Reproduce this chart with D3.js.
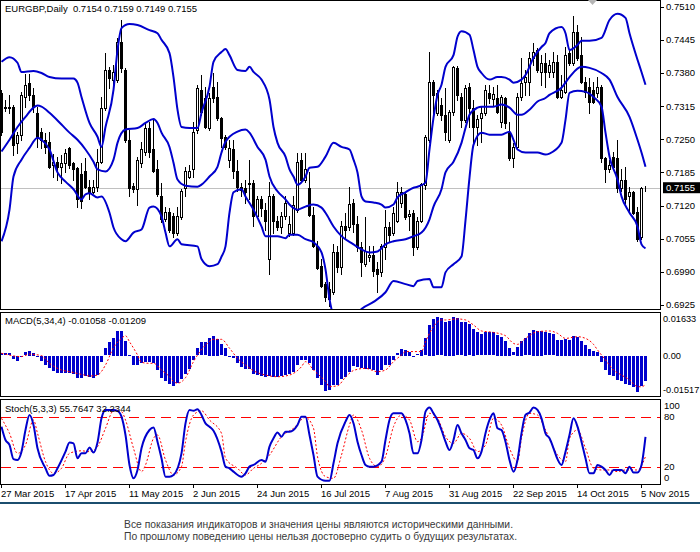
<!DOCTYPE html>
<html>
<head>
<meta charset="utf-8">
<script src="https://cdn.jsdelivr.net/npm/d3@7"></script>
<style>
  body { margin: 0; background: #fff; }
  text { font-family: "Liberation Sans", Arial, sans-serif; white-space: pre; }
</style>
</head>
<body>
<div id="vis"></div>
<script>
// EURGBP daily candles, [open, high, low, close]
let ohlc = [
  [0.7341,0.7347,0.7259,0.7265],[0.7314,0.7328,0.7306,0.7312],[0.7314,0.7337,0.7302,0.7312],[0.7314,0.7318,0.7220,0.7239],
  [0.7243,0.7265,0.7224,0.7259],[0.7259,0.7343,0.7249,0.7337],[0.7333,0.7378,0.7314,0.7357],[0.7361,0.7378,0.7328,0.7337],
  [0.7337,0.7351,0.7304,0.7314],[0.7302,0.7314,0.7235,0.7253],[0.7265,0.7272,0.7233,0.7249],[0.7249,0.7263,0.7224,0.7235],
  [0.7245,0.7265,0.7194,0.7196],[0.7200,0.7222,0.7177,0.7206],[0.7206,0.7216,0.7171,0.7196],[0.7196,0.7220,0.7165,0.7204],
  [0.7204,0.7230,0.7185,0.7224],[0.7233,0.7235,0.7194,0.7200],[0.7204,0.7206,0.7171,0.7191],[0.7194,0.7196,0.7118,0.7132],
  [0.7181,0.7204,0.7116,0.7128],[0.7187,0.7214,0.7155,0.7157],[0.7157,0.7171,0.7132,0.7146],[0.7146,0.7171,0.7144,0.7157],
  [0.7157,0.7230,0.7148,0.7206],[0.7206,0.7333,0.7204,0.7312],[0.7312,0.7419,0.7308,0.7386],[0.7386,0.7392,0.7351,0.7371],
  [0.7367,0.7396,0.7357,0.7382],[0.7367,0.7449,0.7363,0.7441],[0.7441,0.7484,0.7382,0.7390],[0.7386,0.7390,0.7245,0.7249],
  [0.7249,0.7269,0.7138,0.7155],[0.7159,0.7165,0.7146,0.7152],[0.7152,0.7216,0.7122,0.7210],[0.7204,0.7245,0.7196,0.7230],
  [0.7226,0.7282,0.7220,0.7272],[0.7272,0.7284,0.7216,0.7226],[0.7230,0.7288,0.7185,0.7187],[0.7191,0.7210,0.7138,0.7142],
  [0.7138,0.7165,0.7087,0.7093],[0.7093,0.7118,0.7089,0.7108],[0.7108,0.7116,0.7069,0.7073],[0.7099,0.7106,0.7058,0.7067],
  [0.7067,0.7118,0.7063,0.7099],[0.7097,0.7152,0.7093,0.7148],[0.7155,0.7196,0.7138,0.7187],[0.7177,0.7200,0.7175,0.7187],
  [0.7191,0.7284,0.7177,0.7265],[0.7269,0.7357,0.7263,0.7351],[0.7347,0.7376,0.7298,0.7304],[0.7331,0.7353,0.7272,0.7274],
  [0.7272,0.7341,0.7269,0.7331],[0.7353,0.7380,0.7324,0.7331],[0.7333,0.7363,0.7288,0.7292],[0.7292,0.7294,0.7235,0.7253],
  [0.7255,0.7259,0.7230,0.7235],[0.7210,0.7249,0.7196,0.7233],[0.7230,0.7249,0.7175,0.7187],[0.7187,0.7210,0.7148,0.7157],
  [0.7157,0.7165,0.7138,0.7150],[0.7155,0.7171,0.7126,0.7146],[0.7165,0.7210,0.7132,0.7163],[0.7165,0.7171,0.7079,0.7099],
  [0.7099,0.7138,0.7097,0.7132],[0.7132,0.7138,0.7099,0.7116],[0.7112,0.7126,0.7073,0.7089],[0.7015,0.7167,0.6985,0.7138],
  [0.7138,0.7142,0.7067,0.7089],[0.7089,0.7099,0.7073,0.7077],[0.7077,0.7108,0.7067,0.7099],[0.7099,0.7138,0.7093,0.7126],
  [0.7067,0.7099,0.7060,0.7083],[0.7067,0.7138,0.7063,0.7122],[0.7112,0.7224,0.7108,0.7206],[0.7210,0.7224,0.7167,0.7171],
  [0.7171,0.7224,0.7167,0.7191],[0.7155,0.7185,0.7099,0.7101],[0.7101,0.7118,0.7038,0.7040],[0.7040,0.7050,0.6995,0.6997],
  [0.7001,0.7015,0.6960,0.6962],[0.6966,0.6970,0.6933,0.6941],[0.6956,0.6970,0.6923,0.6937],[0.6950,0.7044,0.6946,0.7028],
  [0.7028,0.7040,0.6989,0.6999],[0.6999,0.7089,0.6985,0.7079],[0.7079,0.7106,0.7054,0.7073],[0.7077,0.7157,0.7073,0.7124],
  [0.7126,0.7132,0.7069,0.7083],[0.7083,0.7099,0.7030,0.7038],[0.7038,0.7048,0.6982,0.7009],[0.7005,0.7097,0.7001,0.7030],
  [0.7020,0.7040,0.7011,0.7024],[0.7024,0.7040,0.6982,0.6991],[0.6995,0.7009,0.6950,0.6985],[0.6989,0.7044,0.6982,0.7040],
  [0.7038,0.7112,0.7015,0.7077],[0.7077,0.7087,0.7048,0.7063],[0.7067,0.7118,0.7063,0.7106],[0.7089,0.7167,0.7087,0.7146],
  [0.7126,0.7157,0.7118,0.7146],[0.7142,0.7146,0.7093,0.7097],[0.7099,0.7112,0.7073,0.7103],[0.7106,0.7112,0.7024,0.7038],
  [0.7038,0.7097,0.7034,0.7089],[0.7089,0.7165,0.7087,0.7163],[0.7161,0.7259,0.7152,0.7255],[0.7249,0.7421,0.7245,0.7363],
  [0.7363,0.7367,0.7298,0.7337],[0.7302,0.7347,0.7298,0.7341],[0.7318,0.7331,0.7288,0.7298],[0.7298,0.7351,0.7249,0.7265],
  [0.7249,0.7308,0.7245,0.7304],[0.7304,0.7394,0.7298,0.7392],[0.7390,0.7394,0.7328,0.7337],[0.7333,0.7341,0.7274,0.7288],
  [0.7288,0.7357,0.7284,0.7351],[0.7353,0.7361,0.7274,0.7312],[0.7312,0.7328,0.7239,0.7274],[0.7274,0.7298,0.7239,0.7290],
  [0.7292,0.7314,0.7245,0.7302],[0.7302,0.7357,0.7298,0.7347],[0.7341,0.7357,0.7322,0.7331],[0.7329,0.7353,0.7318,0.7339],
  [0.7331,0.7357,0.7302,0.7304],[0.7284,0.7337,0.7274,0.7333],[0.7331,0.7333,0.7272,0.7282],[0.7263,0.7284,0.7210,0.7214],
  [0.7214,0.7243,0.7196,0.7235],[0.7235,0.7341,0.7233,0.7333],[0.7333,0.7410,0.7328,0.7361],[0.7363,0.7386,0.7337,0.7372],
  [0.7363,0.7421,0.7337,0.7410],[0.7410,0.7439,0.7396,0.7421],[0.7425,0.7429,0.7382,0.7386],[0.7382,0.7415,0.7357,0.7400],
  [0.7400,0.7419,0.7353,0.7382],[0.7382,0.7406,0.7372,0.7396],[0.7382,0.7421,0.7372,0.7402],[0.7402,0.7415,0.7331,0.7333],
  [0.7333,0.7376,0.7331,0.7347],[0.7343,0.7431,0.7341,0.7415],[0.7419,0.7425,0.7396,0.7400],[0.7400,0.7492,0.7396,0.7460],
  [0.7460,0.7474,0.7406,0.7410],[0.7415,0.7451,0.7361,0.7363],[0.7363,0.7372,0.7333,0.7343],[0.7353,0.7371,0.7302,0.7324],
  [0.7347,0.7363,0.7322,0.7324],[0.7341,0.7372,0.7333,0.7353],[0.7353,0.7357,0.7206,0.7214],[0.7214,0.7216,0.7167,0.7191],
  [0.7191,0.7210,0.7185,0.7200],[0.7216,0.7226,0.7194,0.7196],[0.7214,0.7249,0.7146,0.7155],[0.7155,0.7191,0.7148,0.7171],
  [0.7171,0.7196,0.7126,0.7132],[0.7138,0.7157,0.7106,0.7146],[0.7146,0.7148,0.7103,0.7106],[0.7108,0.7118,0.7050,0.7054],
  [0.7058,0.7157,0.7054,0.7155],[0.7154,0.7159,0.7149,0.7155]
];

// Bollinger bands, [bar, price]
let upperBand = [[0,0.7402],[2,0.7411],[4,0.7400],[5,0.7382],[8,0.7384],[10,0.7380],[12,0.7372],[15,0.7369],[18,0.7369],[19,0.7361],[20,0.7333],[22,0.7282],[24,0.7255],[25,0.7235],[26,0.7274],[28,0.7347],[29,0.7425],[30,0.7468],[32,0.7476],[34,0.7474],[37,0.7464],[39,0.7458],[40,0.7445],[42,0.7419],[43,0.7372],[44,0.7308],[45,0.7274],[47,0.7272],[49,0.7272],[50,0.7302],[52,0.7353],[53,0.7402],[55,0.7421],[56,0.7427],[57,0.7415],[59,0.7386],[61,0.7384],[62,0.7392],[63,0.7382],[65,0.7367],[67,0.7328],[68,0.7274],[69,0.7243],[71,0.7216],[72,0.7191],[73,0.7177],[74,0.7161],[76,0.7177],[77,0.7194],[79,0.7196],[81,0.7216],[83,0.7243],[85,0.7235],[87,0.7230],[88,0.7210],[89,0.7185],[90,0.7138],[91,0.7128],[93,0.7126],[95,0.7122],[96,0.7116],[98,0.7122],[99,0.7136],[101,0.7146],[103,0.7155],[104,0.7157],[106,0.7165],[107,0.7230],[108,0.7292],[109,0.7337],[110,0.7357],[111,0.7392],[113,0.7415],[114,0.7451],[115,0.7462],[117,0.7455],[118,0.7425],[119,0.7392],[120,0.7380],[122,0.7367],[124,0.7372],[125,0.7372],[127,0.7367],[128,0.7361],[130,0.7367],[131,0.7376],[133,0.7410],[135,0.7431],[136,0.7439],[137,0.7458],[140,0.7470],[141,0.7458],[142,0.7425],[144,0.7435],[145,0.7443],[147,0.7443],[150,0.7449],[152,0.7484],[154,0.7496],[156,0.7488],[157,0.7458],[159,0.7406],[160,0.7382],[161,0.7357]];
let middleBand = [[0,0.7226],[2,0.7249],[4,0.7274],[6,0.7294],[8,0.7312],[9,0.7316],[10,0.7314],[12,0.7302],[15,0.7279],[17,0.7263],[19,0.7249],[21,0.7230],[23,0.7206],[24,0.7191],[26,0.7187],[28,0.7210],[29,0.7243],[31,0.7269],[34,0.7272],[36,0.7282],[38,0.7290],[39,0.7282],[40,0.7263],[42,0.7235],[43,0.7204],[44,0.7171],[46,0.7159],[49,0.7157],[50,0.7161],[52,0.7177],[54,0.7196],[55,0.7224],[56,0.7245],[59,0.7265],[61,0.7269],[62,0.7263],[64,0.7235],[66,0.7210],[67,0.7177],[69,0.7148],[71,0.7132],[72,0.7122],[74,0.7112],[76,0.7118],[78,0.7122],[80,0.7116],[81,0.7106],[83,0.7079],[85,0.7060],[88,0.7044],[90,0.7034],[92,0.7028],[94,0.7030],[96,0.7044],[98,0.7050],[101,0.7054],[103,0.7060],[105,0.7067],[107,0.7093],[108,0.7118],[110,0.7152],[111,0.7185],[113,0.7206],[115,0.7243],[116,0.7272],[117,0.7298],[119,0.7312],[120,0.7314],[123,0.7314],[125,0.7318],[127,0.7312],[129,0.7298],[130,0.7298],[132,0.7308],[134,0.7324],[136,0.7331],[137,0.7337],[140,0.7351],[142,0.7372],[145,0.7392],[147,0.7390],[150,0.7380],[152,0.7367],[154,0.7333],[157,0.7294],[159,0.7249],[160,0.7224],[161,0.7196]];
let lowerBand = [[0,0.7050],[2,0.7112],[3,0.7177],[5,0.7210],[7,0.7233],[9,0.7253],[10,0.7249],[12,0.7230],[14,0.7185],[16,0.7167],[18,0.7152],[20,0.7132],[21,0.7142],[22,0.7144],[24,0.7136],[25,0.7138],[27,0.7106],[28,0.7077],[30,0.7054],[31,0.7050],[33,0.7067],[35,0.7073],[37,0.7116],[38,0.7118],[40,0.7099],[41,0.7067],[42,0.7040],[44,0.7054],[45,0.7044],[49,0.7040],[50,0.7015],[52,0.7001],[54,0.7005],[55,0.7020],[56,0.7040],[57,0.7106],[58,0.7146],[60,0.7152],[61,0.7138],[63,0.7112],[65,0.7079],[66,0.7060],[69,0.7060],[71,0.7056],[72,0.7063],[74,0.7063],[76,0.7054],[78,0.7048],[80,0.7028],[81,0.6995],[82,0.6937],[84,0.6890],[87,0.6885],[90,0.6917],[93,0.6931],[96,0.6950],[98,0.6972],[101,0.6966],[103,0.6962],[104,0.6972],[107,0.6976],[108,0.6960],[110,0.6960],[111,0.6989],[113,0.7005],[115,0.7020],[116,0.7091],[117,0.7175],[118,0.7239],[120,0.7263],[122,0.7259],[125,0.7259],[127,0.7265],[128,0.7249],[129,0.7230],[131,0.7224],[134,0.7224],[136,0.7220],[137,0.7222],[140,0.7243],[141,0.7288],[142,0.7341],[144,0.7345],[146,0.7343],[148,0.7333],[150,0.7314],[151,0.7263],[152,0.7216],[154,0.7171],[155,0.7138],[157,0.7106],[159,0.7079],[160,0.7044],[161,0.7036]];

// MACD(5,34,4) histogram, one value per bar
let macdHist = [
  0.0010,0.0010,0.0010,-0.0011,-0.0022,-0.0004,0.0014,0.0019,0.0013,-0.0004,
  -0.0022,-0.0036,-0.0050,-0.0064,-0.0071,-0.0071,-0.0071,-0.0071,-0.0074,-0.0092,
  -0.0092,-0.0085,-0.0088,-0.0092,-0.0081,-0.0025,0.0031,0.0056,0.0075,0.0103,
  0.0103,0.0061,0.0003,-0.0039,-0.0039,-0.0028,-0.0025,-0.0025,-0.0028,-0.0060,
  -0.0092,-0.0106,-0.0115,-0.0125,-0.0111,-0.0097,-0.0076,-0.0056,-0.0018,0.0031,
  0.0056,0.0056,0.0075,0.0083,0.0070,0.0047,0.0033,-0.0002,-0.0008,-0.0028,
  -0.0046,-0.0056,-0.0056,-0.0074,-0.0078,-0.0083,-0.0088,-0.0085,-0.0088,-0.0088,
  -0.0085,-0.0081,-0.0074,-0.0067,-0.0039,-0.0018,-0.0018,-0.0028,-0.0060,-0.0092,
  -0.0122,-0.0145,-0.0143,-0.0122,-0.0122,-0.0095,-0.0088,-0.0067,-0.0042,-0.0046,
  -0.0050,-0.0056,-0.0053,-0.0060,-0.0078,-0.0060,-0.0036,-0.0039,-0.0018,0.0010,
  0.0028,0.0024,0.0017,-0.0004,0.0006,0.0024,0.0072,0.0128,0.0153,0.0160,
  0.0156,0.0142,0.0145,0.0163,0.0156,0.0139,0.0142,0.0131,0.0111,0.0097,
  0.0089,0.0097,0.0097,0.0097,0.0086,0.0079,0.0061,0.0033,0.0014,0.0038,
  0.0061,0.0072,0.0093,0.0107,0.0103,0.0103,0.0097,0.0093,0.0089,0.0065,
  0.0065,0.0070,0.0065,0.0083,0.0079,0.0061,0.0044,0.0028,0.0019,0.0017,
  -0.0025,-0.0060,-0.0078,-0.0083,-0.0101,-0.0106,-0.0115,-0.0122,-0.0129,-0.0152,
  -0.0125,-0.0106
];
let macdSignal = [[0,0.0010],[5,-0.0004],[7,0.0006],[10,0.0000],[12,-0.0032],[15,-0.0060],[17,-0.0067],[20,-0.0078],[22,-0.0085],[24,-0.0081],[26,-0.0039],[28,0.0033],[30,0.0072],[31,0.0083],[32,0.0058],[34,0.0003],[35,-0.0028],[37,-0.0032],[38,-0.0032],[40,-0.0060],[42,-0.0088],[43,-0.0108],[44,-0.0115],[46,-0.0092],[48,-0.0025],[51,0.0044],[53,0.0068],[55,0.0068],[57,0.0031],[59,-0.0011],[61,-0.0039],[63,-0.0063],[66,-0.0081],[69,-0.0088],[72,-0.0081],[75,-0.0046],[76,-0.0025],[78,-0.0060],[81,-0.0108],[82,-0.0129],[84,-0.0126],[86,-0.0090],[88,-0.0062],[91,-0.0053],[94,-0.0067],[96,-0.0060],[98,-0.0025],[100,0.0003],[101,0.0017],[103,0.0017],[105,0.0017],[106,0.0058],[108,0.0121],[110,0.0149],[111,0.0149],[114,0.0153],[116,0.0149],[118,0.0128],[120,0.0103],[123,0.0097],[126,0.0083],[128,0.0051],[129,0.0047],[131,0.0072],[134,0.0100],[137,0.0103],[139,0.0093],[141,0.0072],[144,0.0079],[146,0.0072],[148,0.0047],[149,0.0024],[151,-0.0018],[153,-0.0060],[155,-0.0081],[157,-0.0101],[159,-0.0129],[160,-0.0130],[161,-0.0121]];

// Stochastic(5,3,3), [bar, value]
let stochMain = [[0,68],[1,52],[2,46],[3,29],[4,28],[5,38],[6,64],[7,82],[8,70],[9,42],[11,18],[12,9],[13,10],[14,18],[16,38],[17,49],[18,48],[19,30],[20,36],[21,36],[22,43],[23,37],[24,49],[25,78],[26,88],[28,88],[29,87],[30,80],[31,58],[32,22],[33,6],[34,16],[35,42],[37,64],[38,67],[39,50],[40,30],[41,8],[42,8],[43,10],[45,36],[46,72],[47,88],[48,87],[49,89],[50,82],[51,72],[52,68],[53,63],[55,38],[56,20],[57,18],[58,14],[60,8],[61,12],[62,20],[63,22],[65,28],[66,26],[67,44],[68,54],[69,61],[70,56],[71,62],[72,62],[74,70],[75,80],[76,80],[77,58],[78,34],[79,8],[81,3],[82,3],[83,24],[84,48],[86,74],[87,82],[88,72],[89,50],[90,34],[91,22],[92,20],[93,20],[95,26],[96,52],[97,76],[98,84],[100,84],[101,76],[102,60],[103,36],[104,36],[105,52],[106,86],[107,91],[108,84],[109,76],[110,64],[111,50],[112,40],[113,52],[114,70],[115,60],[116,52],[117,42],[118,40],[119,30],[120,38],[121,60],[122,76],[123,84],[124,66],[125,64],[126,50],[127,28],[128,14],[129,28],[130,60],[131,82],[132,85],[133,91],[134,88],[135,78],[136,60],[137,54],[138,42],[139,29],[140,22],[141,38],[142,58],[143,78],[144,68],[145,50],[146,30],[147,12],[148,12],[149,22],[150,20],[151,16],[152,10],[153,16],[154,16],[155,16],[156,12],[157,20],[158,13],[159,13],[160,22],[161,55.7647]];
let stochSignal = [[0,78],[2,60],[4,36],[6,46],[8,76],[9,60],[11,26],[13,12],[15,18],[17,36],[20,39],[22,38],[24,44],[26,66],[28,87],[30,86],[31,76],[33,42],[35,14],[36,22],[38,54],[39,58],[41,28],[43,10],[45,20],[46,50],[48,82],[50,87],[52,76],[55,60],[56,30],[59,18],[61,10],[63,18],[65,24],[67,34],[70,56],[73,66],[76,79],[78,66],[79,32],[81,8],[83,6],[85,34],[87,70],[88,82],[90,64],[92,30],[94,20],[96,32],[98,68],[100,82],[102,76],[104,50],[105,54],[107,84],[109,78],[111,56],[113,48],[115,60],[117,54],[119,38],[121,46],[123,78],[125,70],[127,42],[129,26],[130,54],[132,84],[134,82],[136,64],[139,34],[141,26],[142,54],[144,64],[146,42],[148,18],[150,16],[152,16],[154,14],[156,16],[159,16],[161,32.2344]];

let priceTicks = [0.7510,0.7445,0.7380,0.7315,0.7250,0.7185,0.7120,0.7055,0.6990,0.6925];
let lastPrice = 0.7155;
let macdTicks = [0.01633, 0.00, -0.01517];
let macdTickText = ['0.01633', '0.00', '-0.01517'];
let stochTicks = [100, 80, 20, 0];
let stochLevels = [80, 20];
let dateIdx = [0, 16, 32, 48, 64, 80, 96, 112, 128, 144, 160];
let dateLabels = ['27 Mar 2015','17 Apr 2015','11 May 2015','2 Jun 2015','24 Jun 2015','16 Jul 2015','7 Aug 2015','31 Aug 2015','22 Sep 2015','14 Oct 2015','5 Nov 2015'];

let title = 'EURGBP,Daily  0.7154 0.7159 0.7149 0.7155';
let macdTitle = 'MACD(5,34,4) -0.01058 -0.01209';
let stochTitle = 'Stoch(5,3,3) 55.7647 32.2344';
let note1 = 'Все показания индикаторов и значения цены являются историческими данными.';
let note2 = 'По прошлому поведению цены нельзя достоверно судить о будущих результатах.';

let width = 700, height = 552, plotRight = 660;
let mainPanel = { top: 0, bottom: 309 };
let macdPanel = { top: 312, bottom: 396 };
let stochPanel = { top: 399, bottom: 484 };
let blue = '#0000cd';

let svg = d3.select('#vis')
  .append('svg')
  .attr('width', width)
  .attr('height', height)
  .style('display', 'block')
  .style('background-color', 'white');

let x = d3.scaleLinear().domain([0, ohlc.length - 1]).range([1, 645]);
let yMain = d3.scaleLinear().domain([0.6925, 0.7510]).range([305, 6.7]);
let yMacd = d3.scaleLinear().domain([-0.01517, 0.01633]).range([392, 316.5]);
let yStoch = d3.scaleLinear().domain([0, 100]).range([483.3, 400]);

let defs = svg.append('defs');
[['clipMain', mainPanel], ['clipMacd', macdPanel], ['clipStoch', stochPanel]].forEach(function (c) {
  defs.append('clipPath').attr('id', c[0])
    .append('rect')
    .attr('x', 1).attr('y', c[1].top + 1)
    .attr('width', plotRight - 1).attr('height', c[1].bottom - c[1].top - 1);
});

// current price line
svg.append('line')
  .attr('x1', 0).attr('x2', plotRight)
  .attr('y1', Math.round(yMain(lastPrice)) + 0.5).attr('y2', Math.round(yMain(lastPrice)) + 0.5)
  .attr('stroke', '#c0c0c0');

// candles
let candles = svg.append('g')
  .attr('clip-path', 'url(#clipMain)')
  .attr('shape-rendering', 'crispEdges');
candles.selectAll('line')
  .data(ohlc)
  .join('line')
  .attr('x1', (d, i) => Math.round(x(i)) + 0.5)
  .attr('x2', (d, i) => Math.round(x(i)) + 0.5)
  .attr('y1', d => Math.round(yMain(d[1])))
  .attr('y2', d => Math.round(yMain(d[2])) + 1)
  .attr('stroke', 'black');
candles.selectAll('rect')
  .data(ohlc)
  .join('rect')
  .attr('x', (d, i) => Math.round(x(i)) - 0.5)
  .attr('y', d => Math.round(yMain(Math.max(d[0], d[3]))) + 0.5)
  .attr('width', 2)
  .attr('height', d => Math.max(0, Math.round(yMain(Math.min(d[0], d[3]))) - Math.round(yMain(Math.max(d[0], d[3])))))
  .attr('fill', d => d[3] >= d[0] ? 'white' : 'black')
  .attr('stroke', 'black');

// bollinger bands
let bandLine = d3.line()
  .x(d => x(d[0]) + 0.5)
  .y(d => yMain(d[1]))
  .curve(d3.curveMonotoneX);
svg.append('g')
  .attr('clip-path', 'url(#clipMain)')
  .selectAll('path')
  .data([upperBand, middleBand, lowerBand])
  .join('path')
  .attr('d', bandLine)
  .attr('fill', 'none')
  .attr('stroke', blue)
  .attr('stroke-width', 2);

// macd histogram + signal
svg.append('g')
  .attr('clip-path', 'url(#clipMacd)')
  .attr('shape-rendering', 'crispEdges')
  .selectAll('rect')
  .data(macdHist)
  .join('rect')
  .attr('x', (d, i) => Math.round(x(i)) - 1)
  .attr('y', d => Math.round(Math.min(yMacd(d), yMacd(0))))
  .attr('width', 3)
  .attr('height', d => Math.max(1, Math.round(Math.abs(yMacd(d) - yMacd(0)))))
  .attr('fill', blue);
svg.append('path')
  .attr('clip-path', 'url(#clipMacd)')
  .attr('d', d3.line().x(d => x(d[0]) + 0.5).y(d => yMacd(d[1])).curve(d3.curveMonotoneX)(macdSignal))
  .attr('fill', 'none')
  .attr('stroke', '#ff0000')
  .attr('stroke-dasharray', '2,2');

// stochastic
svg.append('g')
  .attr('shape-rendering', 'crispEdges')
  .selectAll('line')
  .data(stochLevels)
  .join('line')
  .attr('x1', 1).attr('x2', plotRight)
  .attr('y1', d => Math.round(yStoch(d)) + 0.5).attr('y2', d => Math.round(yStoch(d)) + 0.5)
  .attr('stroke', '#ff0000')
  .attr('stroke-width', 1)
  .attr('stroke-dasharray', '10,6');
let stochLine = d3.line()
  .x(d => x(d[0]) + 0.5)
  .y(d => yStoch(d[1]))
  .curve(d3.curveMonotoneX);
svg.append('path')
  .attr('clip-path', 'url(#clipStoch)')
  .attr('d', stochLine(stochSignal))
  .attr('fill', 'none')
  .attr('stroke', '#ff0000')
  .attr('stroke-dasharray', '2,2');
svg.append('path')
  .attr('clip-path', 'url(#clipStoch)')
  .attr('d', stochLine(stochMain))
  .attr('fill', 'none')
  .attr('stroke', blue)
  .attr('stroke-width', 2);

// panel frames
svg.append('g')
  .attr('shape-rendering', 'crispEdges')
  .selectAll('rect')
  .data([mainPanel, macdPanel, stochPanel])
  .join('rect')
  .attr('x', 0.5)
  .attr('y', d => d.top + 0.5)
  .attr('width', plotRight)
  .attr('height', d => d.bottom - d.top)
  .attr('fill', 'none')
  .attr('stroke', 'black');

// shift marker
svg.append('path')
  .attr('d', `M${plotRight - 72},0 L${plotRight - 63},0 L${plotRight - 67.5},5 Z`)
  .attr('fill', '#b4b4b4');

// titles
let fs = '9.5px';
svg.append('text').attr('x', 5).attr('y', 11.5).attr('font-size', fs).text(title);
svg.append('text').attr('x', 5).attr('y', 323.5).attr('font-size', fs).text(macdTitle);
svg.append('text').attr('x', 5).attr('y', 412).attr('font-size', fs).text(stochTitle);

// right axes
let clampY = (y, p) => Math.max(p.top + 6.5, Math.min(p.bottom - 6, y));
let axisMain = svg.append('g').attr('font-size', fs);
axisMain.selectAll('line')
  .data(priceTicks)
  .join('line')
  .attr('shape-rendering', 'crispEdges')
  .attr('x1', plotRight + 1).attr('x2', plotRight + 4)
  .attr('y1', d => Math.round(yMain(d)) + 0.5).attr('y2', d => Math.round(yMain(d)) + 0.5)
  .attr('stroke', 'black');
axisMain.selectAll('text')
  .data(priceTicks)
  .join('text')
  .attr('x', plotRight + 6)
  .attr('y', d => yMain(d) + 3.4)
  .text(d => d.toFixed(4));

svg.append('rect')
  .attr('x', plotRight + 3).attr('y', yMain(lastPrice) - 5.5)
  .attr('width', width - plotRight - 3).attr('height', 11)
  .attr('fill', 'black');
svg.append('text')
  .attr('x', plotRight + 6).attr('y', yMain(lastPrice) + 3.4)
  .attr('font-size', fs)
  .attr('fill', 'white')
  .text(lastPrice.toFixed(4));

svg.append('g').attr('font-size', '9.2px')
  .selectAll('text')
  .data(macdTicks)
  .join('text')
  .attr('x', plotRight + 3)
  .attr('y', d => clampY(yMacd(d), macdPanel) + 3.4)
  .text((d, i) => macdTickText[i]);

svg.append('g').attr('font-size', fs)
  .selectAll('text')
  .data(stochTicks)
  .join('text')
  .attr('x', plotRight + 4)
  .attr('y', d => clampY(yStoch(d), stochPanel) + 3.4)
  .text(d => d);

// date axis
let axisX = svg.append('g').attr('font-size', fs);
axisX.selectAll('line')
  .data(dateIdx)
  .join('line')
  .attr('shape-rendering', 'crispEdges')
  .attr('x1', d => Math.round(x(d)) + 0.5).attr('x2', d => Math.round(x(d)) + 0.5)
  .attr('y1', stochPanel.bottom + 1).attr('y2', stochPanel.bottom + 4)
  .attr('stroke', 'black');
axisX.selectAll('text')
  .data(dateIdx)
  .join('text')
  .attr('x', d => Math.round(x(d)))
  .attr('y', 496.5)
  .text((d, i) => dateLabels[i]);

svg.append('rect')
  .attr('x', 0).attr('y', 502)
  .attr('width', width).attr('height', 2)
  .attr('fill', '#1b4d6e');

svg.append('text')
  .attr('x', 124).attr('y', 527.5)
  .attr('font-size', '11.5px').attr('fill', '#3a3a3a')
  .attr('textLength', 389).attr('lengthAdjust', 'spacingAndGlyphs')
  .text(note1);
svg.append('text')
  .attr('x', 124).attr('y', 539.5)
  .attr('font-size', '11.5px').attr('fill', '#3a3a3a')
  .attr('textLength', 393).attr('lengthAdjust', 'spacingAndGlyphs')
  .text(note2);
</script>
</body>
</html>
